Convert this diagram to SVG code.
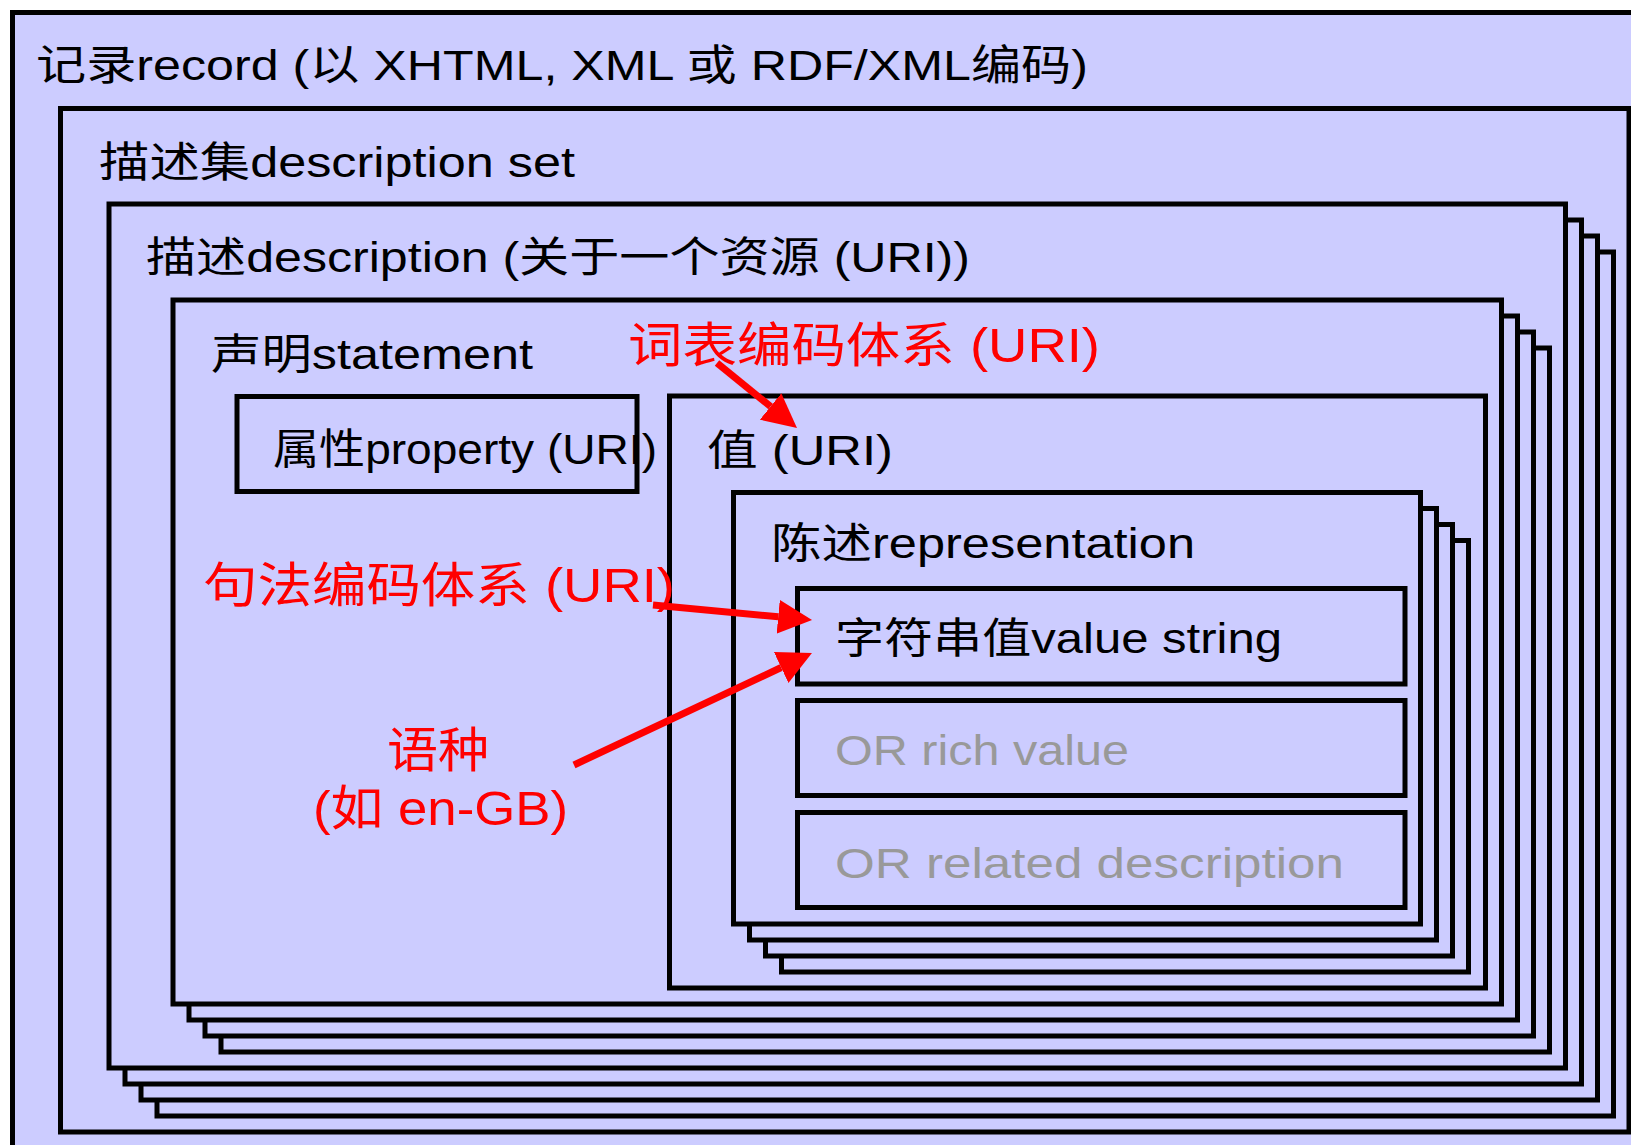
<svg xmlns="http://www.w3.org/2000/svg" width="1631" height="1145" viewBox="0 0 1631 1145">
<defs>
<style>
.box{fill:#ccccff;stroke:#000;stroke-width:5}
.t{font-family:"Liberation Sans","Noto Sans CJK SC",sans-serif;font-size:42px;fill:#000}
.r{fill:#ff0000;font-size:48px}
.g{fill:#999999}
.arrow{stroke:#ff0000;stroke-width:7;fill:none;marker-end:url(#ah)}
</style>
<marker id="ah" markerUnits="userSpaceOnUse" markerWidth="34" markerHeight="34" viewBox="0 0 34 34" refX="0" refY="17" orient="auto">
<path d="M0,0 L34,17 L0,34 z" fill="#ff0000"/>
</marker>
</defs>
<rect x="0" y="0" width="1631" height="1145" fill="#ffffff"/>
<g id="record">
<rect class="box" x="12.5" y="12.5" width="1640" height="1150"/>
<text class="t" x="36" y="80" textLength="1052" lengthAdjust="spacingAndGlyphs">记录record (以 XHTML, XML 或 RDF/XML编码)</text>
</g>
<g id="description-set">
<rect class="box" x="60.5" y="108.5" width="1568.5" height="1023.5"/>
<text class="t" x="99" y="177" textLength="476" lengthAdjust="spacingAndGlyphs">描述集description set</text>
</g>
<g id="description">
<rect class="box" x="157" y="252" width="1456.5" height="864"/>
<rect class="box" x="141" y="236" width="1456.5" height="864"/>
<rect class="box" x="125" y="220" width="1456.5" height="864"/>
<rect class="box" x="109" y="204" width="1456.5" height="864"/>
<text class="t" x="146" y="272" textLength="824" lengthAdjust="spacingAndGlyphs">描述description (关于一个资源 (URI))</text>
</g>
<g id="statement">
<rect class="box" x="221" y="348" width="1328.5" height="704"/>
<rect class="box" x="205" y="332" width="1328.5" height="704"/>
<rect class="box" x="189" y="316" width="1328.5" height="704"/>
<rect class="box" x="173" y="300" width="1328.5" height="704"/>
<text class="t" x="211" y="369" textLength="322" lengthAdjust="spacingAndGlyphs">声明statement</text>
</g>
<g id="property">
<rect class="box" x="237" y="396.5" width="400" height="95"/>
<text class="t" x="273" y="464" textLength="384" lengthAdjust="spacingAndGlyphs">属性property (URI)</text>
</g>
<g id="value">
<rect class="box" x="669.5" y="396" width="816" height="592"/>
<text class="t" x="707" y="465" textLength="186" lengthAdjust="spacingAndGlyphs">值 (URI)</text>
</g>
<g id="representation">
<rect class="box" x="781.5" y="540.5" width="687" height="431.5"/>
<rect class="box" x="765.5" y="524.5" width="687" height="431.5"/>
<rect class="box" x="749.5" y="508.5" width="687" height="431.5"/>
<rect class="box" x="733.5" y="492.5" width="687" height="431.5"/>
<text class="t" x="771" y="558" textLength="424" lengthAdjust="spacingAndGlyphs">陈述representation</text>
</g>
<g id="value-string">
<rect class="box" x="797.5" y="588.5" width="607.5" height="95.5"/>
<text class="t" x="835" y="653" textLength="447" lengthAdjust="spacingAndGlyphs">字符串值value string</text>
</g>
<g id="rich-value">
<rect class="box" x="797.5" y="700.5" width="607.5" height="95"/>
<text class="t g" x="835" y="765" textLength="294" lengthAdjust="spacingAndGlyphs">OR rich value</text>
</g>
<g id="related-description">
<rect class="box" x="797.5" y="812.5" width="607.5" height="95"/>
<text class="t g" x="835" y="878" textLength="509" lengthAdjust="spacingAndGlyphs">OR related description</text>
</g>
<g id="vocab-scheme">
<text class="t r" x="628" y="362" textLength="472" lengthAdjust="spacingAndGlyphs">词表编码体系 (URI)</text>
</g>
<g id="syntax-scheme">
<text class="t r" x="203" y="602" textLength="472" lengthAdjust="spacingAndGlyphs">句法编码体系 (URI)</text>
</g>
<g id="language">
<text class="t r" x="387" y="767" textLength="102" lengthAdjust="spacingAndGlyphs">语种</text>
<text class="t r" x="313" y="825" textLength="255" lengthAdjust="spacingAndGlyphs">(如 en-GB)</text>
</g>
<g id="connectors">
<line class="arrow" x1="717" y1="363" x2="770.6" y2="406.5"/>
<line class="arrow" x1="653" y1="605" x2="778.2" y2="616.8"/>
<line class="arrow" x1="574" y1="765" x2="781.2" y2="667.5"/>
</g>
</svg>
